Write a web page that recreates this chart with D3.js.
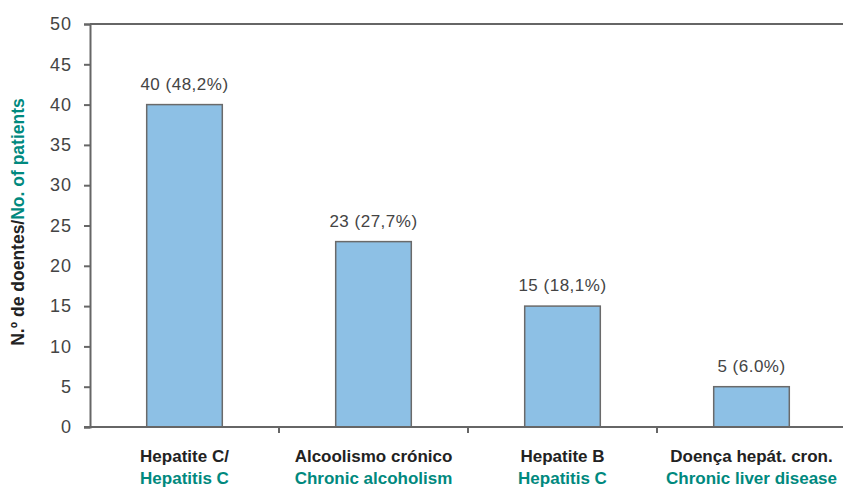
<!DOCTYPE html>
<html>
<head>
<meta charset="utf-8">
<script src="https://cdn.jsdelivr.net/npm/d3@7"></script>
<style>
  body { margin: 0; background: #fff; }
  text { font-family: "Liberation Sans Narrow", "Arial Narrow", "Liberation Sans", Arial, sans-serif; }
</style>
</head>
<body>
<div id="container"></div>
<script>
// dados
const labelsPt = ["Hepatite C/", "Alcoolismo crónico", "Hepatite B", "Doença hepát. cron."];
const labelsEn = ["Hepatitis C", "Chronic alcoholism", "Hepatitis C", "Chronic liver disease"];
const patients = [40, 23, 15, 5];
const percentLabels = ["40 (48,2%)", "23 (27,7%)", "15 (18,1%)", "5 (6.0%)"];
const yTicks = [0, 5, 10, 15, 20, 25, 30, 35, 40, 45, 50];

const width = 843;
const height = 490;
const teal = "#00897e";

const svg = d3
  .select("#container")
  .append("svg")
  .attr("width", width)
  .attr("height", height);

const xScale = d3
  .scaleBand()
  .domain(d3.range(patients.length))
  .range([90, 846])
  .paddingInner(0.6)
  .paddingOuter(0.3);

const yScale = d3.scaleLinear().domain([0, 50]).range([427, 24]);

// linha de cima
svg
  .append("line")
  .attr("x1", 90)
  .attr("x2", width)
  .attr("y1", yScale(50))
  .attr("y2", yScale(50))
  .attr("stroke", "#666")
  .attr("stroke-width", 2);

// barras
svg
  .selectAll(".bar")
  .data(patients)
  .enter()
  .append("rect")
  .attr("class", "bar")
  .attr("x", (d, i) => xScale(i))
  .attr("y", (d) => yScale(d))
  .attr("width", xScale.bandwidth())
  .attr("height", (d) => yScale(0) - yScale(d))
  .attr("fill", "#8dc0e5")
  .attr("stroke", "#6a6a6a")
  .attr("stroke-width", 1.5);

// eixo y
const yAxis = svg
  .append("g")
  .attr("transform", "translate(90,0)")
  .call(d3.axisLeft(yScale).tickValues(yTicks).tickSize(6).tickPadding(12));
yAxis.select(".domain").attr("stroke", "#666").attr("stroke-width", 2);
yAxis.selectAll(".tick line").attr("stroke", "#666").attr("stroke-width", 2);
yAxis
  .selectAll(".tick text")
  .attr("fill", "#444")
  .style("font-size", "18px")
  .style("letter-spacing", "1px");

// eixo x
const boundaries = d3.range(1, patients.length).map((i) => xScale(i) - (xScale.step() * xScale.paddingInner()) / 2);
svg
  .append("line")
  .attr("x1", 84)
  .attr("x2", width)
  .attr("y1", yScale(0))
  .attr("y2", yScale(0))
  .attr("stroke", "#666")
  .attr("stroke-width", 2);
svg
  .selectAll(".xtick")
  .data(boundaries)
  .enter()
  .append("line")
  .attr("class", "xtick")
  .attr("x1", (d) => d)
  .attr("x2", (d) => d)
  .attr("y1", yScale(0))
  .attr("y2", yScale(0) + 6)
  .attr("stroke", "#666")
  .attr("stroke-width", 2);

// labels das barras
svg
  .selectAll(".value")
  .data(patients)
  .enter()
  .append("text")
  .attr("class", "value")
  .attr("x", (d, i) => xScale(i) + xScale.bandwidth() / 2)
  .attr("y", (d) => yScale(d) - 15)
  .attr("text-anchor", "middle")
  .attr("fill", "#444")
  .style("font-size", "17px")
  .style("letter-spacing", "0.5px")
  .text((d, i) => percentLabels[i]);

// categorias
const cats = svg
  .selectAll(".cat")
  .data(labelsPt)
  .enter()
  .append("text")
  .attr("class", "cat")
  .attr("x", (d, i) => xScale(i) + xScale.bandwidth() / 2)
  .attr("text-anchor", "middle")
  .style("font-size", "17px")
  .style("font-weight", "bold");
cats
  .append("tspan")
  .attr("y", 462)
  .attr("fill", "#222")
  .text((d) => d);
cats
  .append("tspan")
  .attr("x", (d, i) => xScale(i) + xScale.bandwidth() / 2)
  .attr("y", 484)
  .attr("fill", teal)
  .text((d, i) => labelsEn[i]);

// titulo eixo y
const yTitle = svg
  .append("text")
  .attr("transform", "translate(24,222) rotate(-90)")
  .attr("text-anchor", "middle")
  .style("font-size", "17.5px")
  .style("font-weight", "bold");
yTitle.append("tspan").attr("fill", "#222").text("N.º de doentes/");
yTitle.append("tspan").attr("fill", teal).text("No. of patients");
</script>
</body>
</html>
